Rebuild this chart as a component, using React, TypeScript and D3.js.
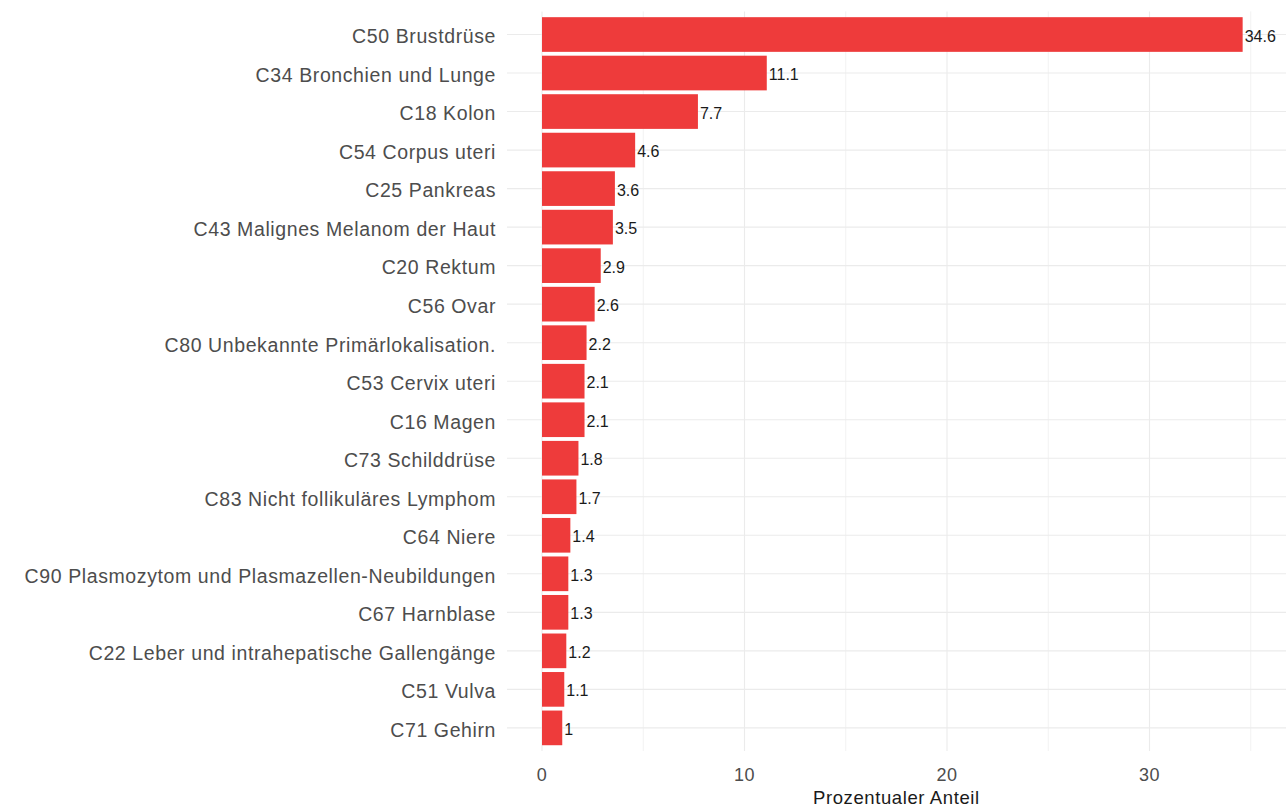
import React from "react";
import * as d3 from "d3";

const categories = [
  "C50 Brustdrüse",
  "C34 Bronchien und Lunge",
  "C18 Kolon",
  "C54 Corpus uteri",
  "C25 Pankreas",
  "C43 Malignes Melanom der Haut",
  "C20 Rektum",
  "C56 Ovar",
  "C80 Unbekannte Primärlokalisation.",
  "C53 Cervix uteri",
  "C16 Magen",
  "C73 Schilddrüse",
  "C83 Nicht follikuläres Lymphom",
  "C64 Niere",
  "C90 Plasmozytom und Plasmazellen-Neubildungen",
  "C67 Harnblase",
  "C22 Leber und intrahepatische Gallengänge",
  "C51 Vulva",
  "C71 Gehirn",
];
const values = [34.6, 11.1, 7.7, 4.6, 3.6, 3.5, 2.9, 2.6, 2.2, 2.1, 2.1, 1.8, 1.7, 1.4, 1.3, 1.3, 1.2, 1.1, 1];
const majorTicks = [0, 10, 20, 30];
const minorTicks = [5, 15, 25, 35];
const xTitle = "Prozentualer Anteil";

const W = 1286;
const H = 808;
const panelLeft = 507;
const panelRight = 1286;
const panelTop = 11.4;
const panelBottom = 751;
const FONT = "'Liberation Sans', Arial, sans-serif";

export default function App() {
  const x = d3.scaleLinear().domain([0, 37]).range([542, 542 + 37 * 20.25]);
  const y = d3
    .scaleBand<string>()
    .domain(categories)
    .range([panelTop, panelBottom])
    .paddingInner(0.1)
    .paddingOuter(0.15);

  return (
    <svg width={W} height={H} style={{ position: "absolute", left: 0, top: 0, background: "#fff" }} fontFamily={FONT}>
      <rect x={0} y={0} width={W} height={H} fill="#fff" />
      {minorTicks.map((t) => (
        <line key={"mi" + t} x1={x(t)} x2={x(t)} y1={panelTop} y2={panelBottom} stroke="#F2F2F2" strokeWidth={1} />
      ))}
      {majorTicks.map((t) => (
        <line key={"ma" + t} x1={x(t)} x2={x(t)} y1={panelTop} y2={panelBottom} stroke="#EBEBEB" strokeWidth={1.1} />
      ))}
      {categories.map((c) => {
        const cy = (y(c) as number) + y.bandwidth() / 2;
        return <line key={"h" + c} x1={panelLeft} x2={panelRight} y1={cy} y2={cy} stroke="#EBEBEB" strokeWidth={1.1} />;
      })}
      {categories.map((c, i) => (
        <rect key={"b" + c} x={x(0)} y={y(c) as number} width={x(values[i]) - x(0)} height={y.bandwidth()} fill="#EE3B3B" />
      ))}
      {categories.map((c, i) => (
        <text
          key={"v" + c}
          x={x(values[i]) + 2}
          y={(y(c) as number) + y.bandwidth() / 2 + 1.5}
          dy="0.35em"
          fontSize={16}
          fill="#1a1a1a"
        >
          {String(values[i])}
        </text>
      ))}
      {categories.map((c) => (
        <text
          key={"c" + c}
          x={496}
          y={(y(c) as number) + y.bandwidth() / 2 + 2}
          dy="0.35em"
          textAnchor="end"
          fontSize={19.5}
          letterSpacing={0.6}
          fill="#4D4D4D"
        >
          {c}
        </text>
      ))}
      {majorTicks.map((t) => (
        <text key={"t" + t} x={x(t)} y={781} textAnchor="middle" fontSize={18} letterSpacing={0.6} fill="#4D4D4D">
          {t}
        </text>
      ))}
      <text x={813} y={804} textAnchor="start" fontSize={18.5} letterSpacing={0.6} fill="#1a1a1a">
        {xTitle}
      </text>
    </svg>
  );
}
